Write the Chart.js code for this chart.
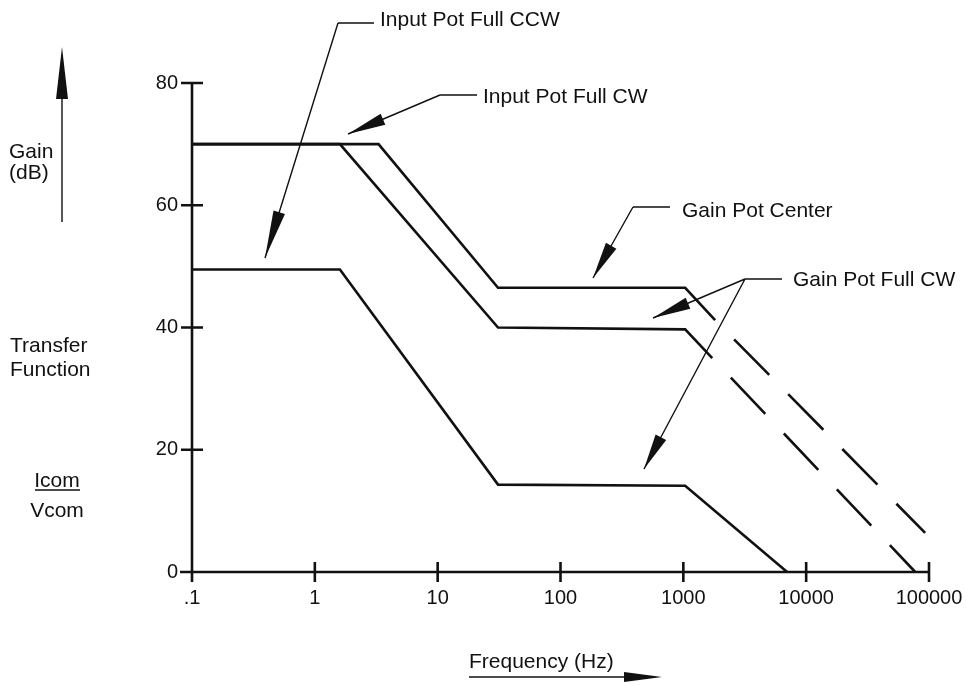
<!DOCTYPE html>
<html lang="en">
<head>
  <meta charset="UTF-8" />
  <title>Transfer Function</title>
  <script src="https://cdn.jsdelivr.net/npm/chart.js"></script>
  <style>
    html, body { margin: 0; padding: 0; background: #fff; }
    #wrap { width: 966px; height: 686px; position: relative; }
  </style>
</head>
<body>
  <div id="wrap"><canvas id="tf"></canvas></div>

  <script>
    const xTicks = [0.1, 1, 10, 100, 1000, 10000, 100000];
    const xTickLabels = ['.1', '1', '10', '100', '1000', '10000', '100000'];
    const yTicks = [0, 20, 40, 60, 80];

    // solid parts of the curves (Hz, dB)
    const centerFreq = [0.1, 3.3, 31, 1035, 1815];
    const centerGain = [70, 70, 46.5, 46.5, 41.2];
    const fullCwFreq = [0.1, 1.6, 31, 1035, 1720];
    const fullCwGain = [70, 70, 40, 39.7, 35.0];
    const ccwFreq = [0.1, 1.6, 31, 1035, 7000];
    const ccwGain = [49.5, 49.5, 14.3, 14.1, 0];

    // dashed roll-off past the gain pot corner
    const centerDashFreq = [1815, 93000];
    const centerDashGain = [41.2, 6.4];
    const fullCwDashFreq = [1720, 77300];
    const fullCwDashGain = [35.0, 0];

    const INK = '#111';
    const zip = (xs, ys) => xs.map((x, i) => ({ x: x, y: ys[i] }));

    function solid(xs, ys) {
      return {
        data: zip(xs, ys), borderColor: INK, borderWidth: 2.6,
        borderJoinStyle: 'miter', pointRadius: 0, tension: 0, clip: false
      };
    }
    function dashed(xs, ys) {
      const d = solid(xs, ys);
      d.borderDash = [50, 27];
      d.borderDashOffset = 50;   // start with a gap after the solid part
      return d;
    }

    function arrowHead(ctx, fx, fy, tx, ty, len, half) {
      const a = Math.atan2(ty - fy, tx - fx);
      const bx = tx - len * Math.cos(a), by = ty - len * Math.sin(a);
      ctx.beginPath();
      ctx.moveTo(tx, ty);
      ctx.lineTo(bx + half * Math.sin(a), by - half * Math.cos(a));
      ctx.lineTo(bx - half * Math.sin(a), by + half * Math.cos(a));
      ctx.closePath();
      ctx.fill();
    }

    const callouts = [
      { text: 'Input Pot Full CCW', tx: 380, ty: 26, knee: [338, 23], end: 374, tips: [[265, 258, 48]] },
      { text: 'Input Pot Full CW', tx: 483, ty: 103, knee: [440, 95], end: 477, tips: [[348, 134, 38]] },
      { text: 'Gain Pot Center', tx: 682, ty: 217, knee: [633, 207], end: 670, tips: [[593, 278, 37]] },
      { text: 'Gain Pot Full CW', tx: 793, ty: 286, knee: [745, 279], end: 782, tips: [[653, 318, 38], [644, 469, 36]] }
    ];

    const decorations = {
      id: 'decorations',
      afterDraw(chart) {
        const ctx = chart.ctx;
        const xs = chart.scales.x, ys = chart.scales.y;
        const left = xs.getPixelForValue(xTicks[0]);
        const right = xs.getPixelForValue(xTicks[xTicks.length - 1]);
        const base = ys.getPixelForValue(0);
        const top = ys.getPixelForValue(80);

        ctx.save();
        ctx.strokeStyle = INK;
        ctx.fillStyle = INK;
        ctx.lineCap = 'butt';

        // axes
        ctx.lineWidth = 2.6;
        ctx.beginPath();
        ctx.moveTo(left, top); ctx.lineTo(left, base + 9);
        ctx.moveTo(left - 12, base); ctx.lineTo(right, base);
        yTicks.forEach(v => {
          if (v === 0) return;
          const py = ys.getPixelForValue(v);
          ctx.moveTo(left - 11, py); ctx.lineTo(left + 11, py);
        });
        xTicks.forEach(v => {
          const px = xs.getPixelForValue(v);
          ctx.moveTo(px, base - 10); ctx.lineTo(px, base + 10);
        });
        ctx.stroke();

        // callouts
        ctx.lineWidth = 1.4;
        ctx.font = '21px "Liberation Sans", Arial, sans-serif';
        ctx.textBaseline = 'alphabetic';
        ctx.textAlign = 'left';
        callouts.forEach(c => {
          const [kx, ky] = c.knee;
          ctx.beginPath();
          ctx.moveTo(c.end, ky); ctx.lineTo(kx, ky);
          c.tips.forEach(t => { ctx.moveTo(kx, ky); ctx.lineTo(t[0], t[1]); });
          ctx.stroke();
          c.tips.forEach(t => arrowHead(ctx, kx, ky, t[0], t[1], t[2], 6));
          ctx.fillText(c.text, c.tx, c.ty);
        });

        // y axis caption
        ctx.fillText('Gain', 9, 158);
        ctx.fillText('(dB)', 9, 179);
        ctx.fillText('Transfer', 10, 352);
        ctx.fillText('Function', 10, 376);
        ctx.textAlign = 'center';
        ctx.fillText('Icom', 57, 487);
        ctx.fillText('Vcom', 57, 517);
        ctx.beginPath();
        ctx.moveTo(35, 490); ctx.lineTo(80, 490);
        ctx.stroke();

        ctx.beginPath();
        ctx.moveTo(62, 222); ctx.lineTo(62, 80);
        ctx.stroke();
        arrowHead(ctx, 62, 222, 62, 47, 52, 6);

        // x axis caption
        ctx.textAlign = 'left';
        ctx.fillText('Frequency (Hz)', 469, 668);
        ctx.beginPath();
        ctx.moveTo(469, 677); ctx.lineTo(630, 677);
        ctx.stroke();
        arrowHead(ctx, 469, 677, 662, 677, 38, 5);

        ctx.restore();
      }
    };

    Chart.defaults.font.family = '"Liberation Sans", Arial, sans-serif';
    Chart.defaults.font.size = 20;
    Chart.defaults.color = INK;

    new Chart(document.getElementById('tf'), {
      type: 'line',
      data: {
        datasets: [
          solid(centerFreq, centerGain),
          solid(fullCwFreq, fullCwGain),
          solid(ccwFreq, ccwGain),
          dashed(centerDashFreq, centerDashGain),
          dashed(fullCwDashFreq, fullCwDashGain)
        ]
      },
      options: {
        responsive: true,
        maintainAspectRatio: false,
        animation: false,
        layout: { padding: { left: 132, top: 83, right: 37, bottom: 74 } },
        plugins: { legend: { display: false }, tooltip: { enabled: false } },
        scales: {
          x: {
            type: 'logarithmic',
            min: 0.1,
            max: 100000,
            afterBuildTicks: s => { s.ticks = xTicks.map(v => ({ value: v })); },
            afterFit: s => { s.height = 40; s.paddingLeft = 0; s.paddingRight = 0; },
            grid: { display: false, drawTicks: false },
            border: { display: false },
            ticks: {
              padding: 14,
              maxRotation: 0,
              autoSkip: false,
              callback: (v, i) => xTickLabels[i]
            }
          },
          y: {
            min: 0,
            max: 80,
            afterBuildTicks: s => { s.ticks = yTicks.map(v => ({ value: v })); },
            afterFit: s => { s.width = 60; s.paddingTop = 0; s.paddingBottom = 0; },
            grid: { display: false, drawTicks: false },
            border: { display: false },
            ticks: { padding: 14 }
          }
        }
      },
      plugins: [decorations]
    });
  </script>
</body>
</html>
